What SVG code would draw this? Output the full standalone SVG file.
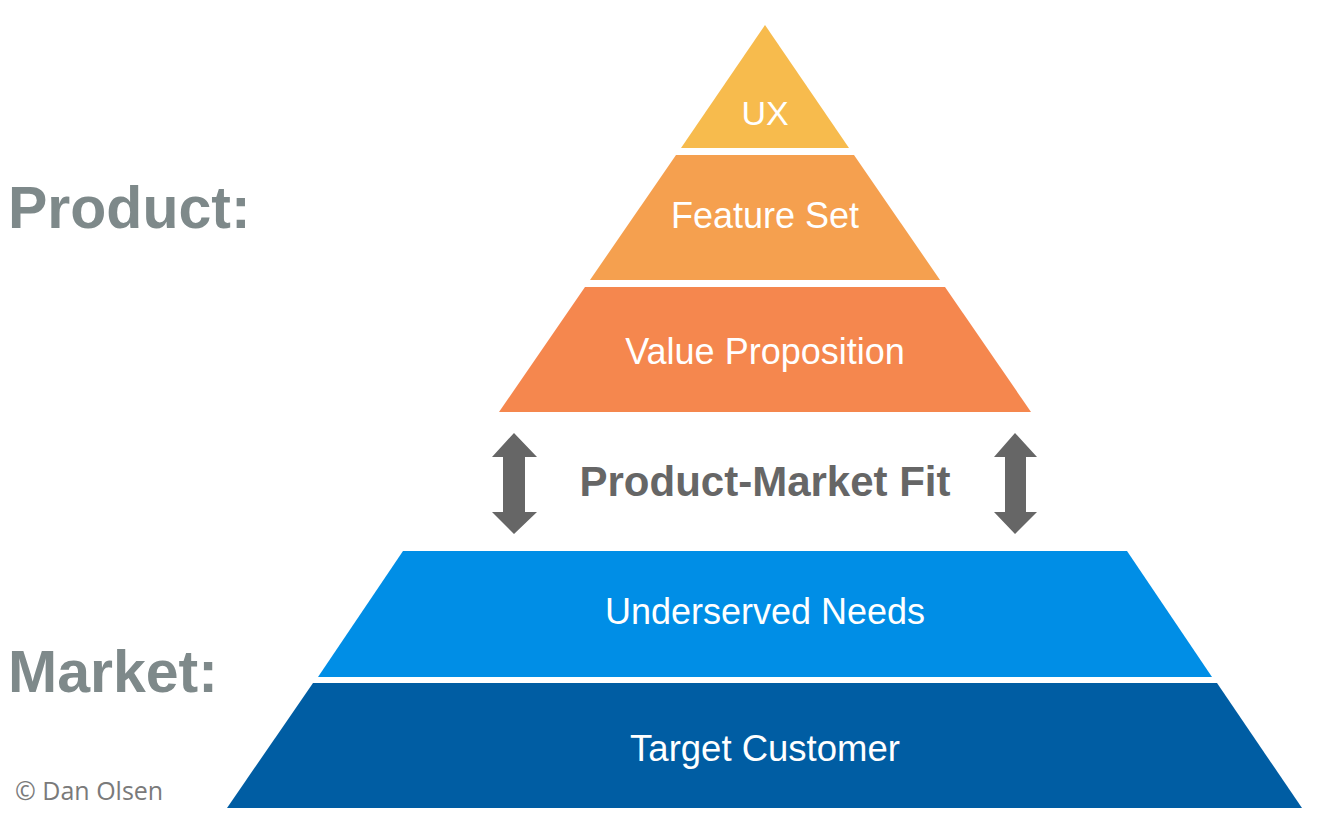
<svg xmlns="http://www.w3.org/2000/svg" width="1319" height="822" viewBox="0 0 1319 822">
<style>
.lbl{font-family:"Liberation Sans",Arial,sans-serif;fill:#fff;text-anchor:middle}
.side{font-family:"Liberation Sans",Arial,sans-serif;font-weight:bold;fill:#7E898A;font-size:59px}
.arrow{fill:#666666}
</style>
<rect width="1319" height="822" fill="#fff"/>
<g id="ux">
<polygon points="765,25 849,148 681,148" fill="#F7BB4D"/>
<text class="lbl" x="765" y="125" font-size="34">UX</text>
</g>
<g id="feature-set">
<polygon points="676,155 854,155 940,280 590,280" fill="#F5A04F"/>
<text class="lbl" x="765" y="228" font-size="36">Feature Set</text>
</g>
<g id="value-proposition">
<polygon points="585,287 945,287 1031,412 499,412" fill="#F5874E"/>
<text class="lbl" x="765" y="364" font-size="36">Value Proposition</text>
</g>
<g id="underserved-needs">
<polygon points="403,551 1127,551 1212,677 318,677" fill="#008EE6"/>
<text class="lbl" x="765" y="624" font-size="36">Underserved Needs</text>
</g>
<g id="target-customer">
<polygon points="313,683 1217,683 1302,808 227,808" fill="#005DA3"/>
<text class="lbl" x="765" y="761" font-size="36.5">Target Customer</text>
</g>
<g id="connectors">
<polygon class="arrow" points="514,433 537,457 525,457 525,512 537,512 514,534 492,512 503,512 503,457 492,457"/>
<polygon class="arrow" points="1015,433 1037,457 1026,457 1026,512 1037,512 1015,534 994,512 1005,512 1005,457 994,457"/>
</g>
<g id="pmf">
<text x="765" y="496" font-family="Liberation Sans,Arial,sans-serif" font-weight="bold" font-size="42" fill="#666666" text-anchor="middle">Product-Market Fit</text>
</g>
<g id="side-labels">
<text class="side" x="8" y="228">Product:</text>
<text class="side" x="8" y="692">Market:</text>
<text x="15" y="800" font-family="Open Sans,Liberation Sans,sans-serif" font-size="25" fill="#7A7A7A">© Dan Olsen</text>
</g>
</svg>
